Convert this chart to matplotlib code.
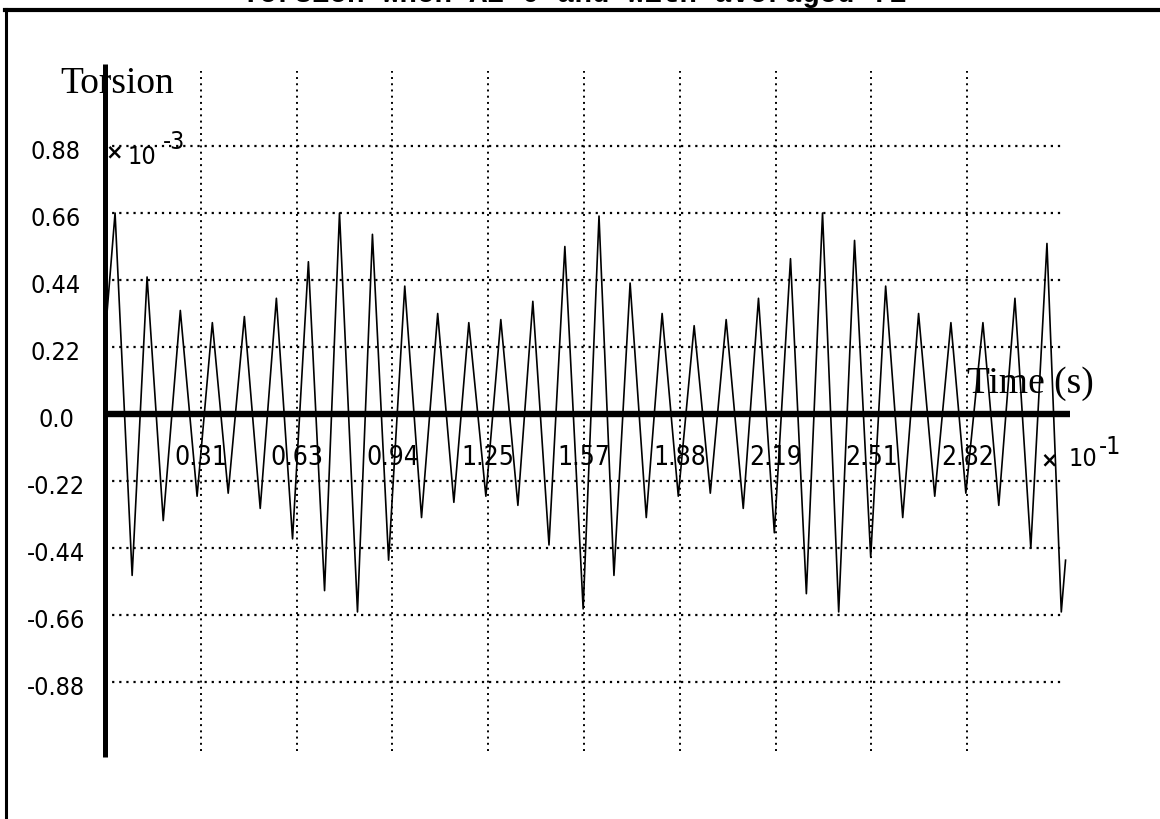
import numpy as np
import matplotlib
matplotlib.use("Agg")
import matplotlib.pyplot as plt
from matplotlib.lines import Line2D
from matplotlib import font_manager as fm

# Torsion signal: alternating crest / trough samples (time in units of 1e-1 s,
# torsion in units of 1e-3)
peak_t = [0.033, 0.138, 0.247, 0.352, 0.457, 0.562, 0.667, 0.769, 0.877, 0.983,
          1.091, 1.193, 1.298, 1.403, 1.508, 1.620, 1.722, 1.827, 1.932, 2.037,
          2.143, 2.248, 2.353, 2.458, 2.560, 2.668, 2.774, 2.879, 2.984, 3.089]
peak_v = [0.66, 0.45, 0.34, 0.30, 0.32, 0.38, 0.50, 0.66, 0.59, 0.42,
          0.33, 0.30, 0.31, 0.37, 0.55, 0.65, 0.43, 0.33, 0.29, 0.31,
          0.38, 0.51, 0.66, 0.57, 0.42, 0.33, 0.30, 0.30, 0.38, 0.56]
trough_t = [0.089, 0.191, 0.302, 0.404, 0.509, 0.615, 0.720, 0.828, 0.930, 1.038,
            1.144, 1.249, 1.354, 1.456, 1.568, 1.669, 1.775, 1.880, 1.985, 2.093,
            2.195, 2.300, 2.406, 2.511, 2.616, 2.721, 2.823, 2.931, 3.036, 3.136]
trough_v = [-0.53, -0.35, -0.27, -0.26, -0.31, -0.41, -0.58, -0.65, -0.48, -0.34,
            -0.29, -0.27, -0.30, -0.43, -0.64, -0.53, -0.34, -0.27, -0.26, -0.31,
            -0.39, -0.59, -0.65, -0.47, -0.34, -0.27, -0.26, -0.30, -0.44, -0.65]
start_t, start_v = 0.0, 0.25
end_t, end_v = 3.150, -0.48

ytick_vals = [0.88, 0.66, 0.44, 0.22, 0.0, -0.22, -0.44, -0.66, -0.88]
ytick_text = ["0.88", "0.66", "0.44", "0.22", "0.0", "-0.22", "-0.44", "-0.66", "-0.88"]
xtick_vals = [k * np.pi / 10 for k in range(1, 10)]
xtick_text = ["0.31", "0.63", "0.94", "1.25", "1.57", "1.88", "2.19", "2.51", "2.82"]

title_text = "Torsion when A2=0 and with averaged f2"

# assemble the trace in time order
t = [start_t]
v = [start_v]
for pt, pv, tt, tv in zip(peak_t, peak_v, trough_t, trough_v):
    t += [pt, tt]
    v += [pv, tv]
t.append(end_t)
v.append(end_v)


def narrow_font(size):
    """A condensed sans face if one is installed, else a smaller DejaVu Sans."""
    for f in fm.fontManager.ttflist:
        nm = f.name.lower()
        if ("narrow" in nm or "condensed" in nm or f.stretch in ("condensed", "semi-condensed")) \
                and f.style == "normal" and f.weight in (400, "normal", "regular"):
            if "serif" in nm or "mono" in nm:
                continue
            return fm.FontProperties(fname=f.fname, size=size)
    return fm.FontProperties(family="DejaVu Sans", size=size * 0.86)


W, H = 1160, 820
fig = plt.figure(figsize=(W / 100, H / 100), dpi=100)
fig.patch.set_facecolor("white")

serif = ["Liberation Serif", "DejaVu Serif"]
fp_y = narrow_font(18)
fp_x = narrow_font(19)
fp_m = narrow_font(18)

x0_px, x1_px = 105, 1063
ytop_px, ybot_px = 65, 758
zero_px, step_px = 415, 67.0
per_px = 0.22 / step_px
ymax = (zero_px - ytop_px) * per_px
ymin = -(ybot_px - zero_px) * per_px

ax = fig.add_axes([x0_px / W, 1 - ybot_px / H, (x1_px - x0_px) / W, (ybot_px - ytop_px) / H])
ax.set_xlim(0, np.pi)
ax.set_ylim(ymin, ymax)
ax.set_axis_off()

dot = (0, (1, 2.2))
# horizontal grid
ax.hlines([yv for yv in ytick_vals if yv != 0], 0, np.pi, colors="black",
          linestyles=dot, linewidth=1.6)
# vertical grid
vg_top = (zero_px - 72) * per_px
vg_bot = -(752 - zero_px) * per_px
ax.vlines(xtick_vals, vg_bot, vg_top, colors="black", linestyles=dot, linewidth=1.4)

# signal trace
ax.plot(t, v, color="black", linewidth=1.2, clip_on=False, zorder=3)

# axes lines
ax.plot([0, 0], [ymin, ymax], color="black", linewidth=3.6, solid_capstyle="butt",
        clip_on=False, zorder=4)
x_end = np.pi * (1070 - x0_px) / (x1_px - x0_px)
ax.plot([0, x_end], [0, 0], color="black", linewidth=4.6, solid_capstyle="butt",
        clip_on=False, zorder=4)

# y tick labels
ylab_x = (56 - x0_px) / (x1_px - x0_px)
for yv, s in zip(ytick_vals, ytick_text):
    ax.text(ylab_x, yv - 5 * per_px, s, transform=ax.get_yaxis_transform(),
            ha="center", va="center", fontproperties=fp_y, color="black")

# x tick labels (inside the plot, just below the axis)
xlab_y = -(458 - zero_px) * per_px
for xv, s in zip(xtick_vals, xtick_text):
    ax.text(xv, xlab_y, s, ha="center", va="center", fontproperties=fp_x,
            color="black", zorder=5)


def px(xp, yp):
    return xp / W, 1 - yp / H


# axis titles and multipliers
fig.text(*px(117, 84), "Torsion", ha="center", va="center", fontsize=27,
         family=serif, color="black")
fig.text(*px(1030, 384), "Time (s)", ha="center", va="center", fontsize=27,
         family=serif, color="black")
fig.text(*px(114, 152), "\u00d7", ha="center", va="center", fontsize=15,
         family="DejaVu Sans", fontweight="bold")
fig.text(*px(142, 157), "10", ha="center", va="center", fontproperties=fp_m)
fig.text(*px(174, 142), "-3", ha="center", va="center", fontproperties=fp_m)
fig.text(*px(1049, 460), "\u00d7", ha="center", va="center", fontsize=15,
         family="DejaVu Sans", fontweight="bold")
fig.text(*px(1083, 459), "10", ha="center", va="center", fontproperties=fp_m)
fig.text(*px(1110, 447), "-1", ha="center", va="center", fontproperties=fp_m)

# page title, running off the top edge
fig.text(*px(575, 2), title_text, ha="center", va="baseline", fontsize=21,
         family=["Liberation Mono", "DejaVu Sans Mono"], fontweight="bold")

# outer frame
fig.add_artist(Line2D([5 / W, 1.0], [1 - 11 / H, 1 - 11 / H], color="black",
                      linewidth=3.0, transform=fig.transFigure))
fig.add_artist(Line2D([6 / W, 6 / W], [1 - 10 / H, 0.0], color="black",
                      linewidth=2.2, transform=fig.transFigure))

fig.savefig("out.png", dpi=100, facecolor="white")
